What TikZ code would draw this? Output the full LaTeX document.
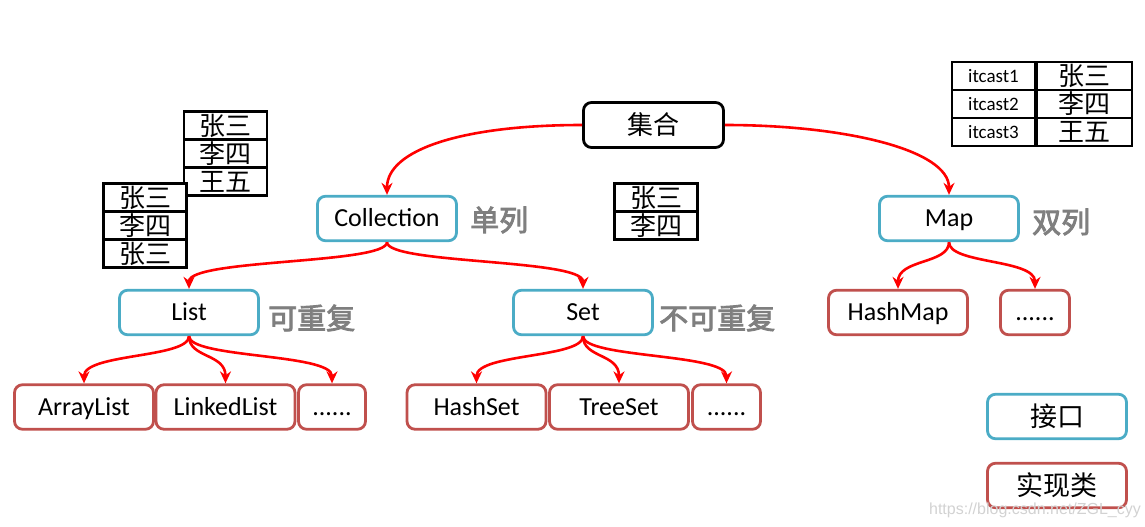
\documentclass[tikz,border=0pt]{standalone}
\usepackage{fontspec}
\setmainfont{Carlito}
\newfontfamily\cjk{Noto Sans CJK SC}
\newfontfamily\cjkb[FakeBold=3]{Noto Sans CJK SC}
\newfontfamily\wmfont{Liberation Sans}
\usetikzlibrary{arrows.meta}
\definecolor{ifblue}{RGB}{75,172,198}
\definecolor{imred}{RGB}{192,80,77}
\definecolor{arrred}{RGB}{255,0,0}
\definecolor{lblgray}{RGB}{127,127,127}
\begin{document}
\begin{tikzpicture}[x=1pt,y=-1pt,
  box/.style={draw, rounded corners=8pt, line width=2.8pt, minimum height=44.5pt, inner sep=0pt, fill=white, font=\fontsize{26}{26}\selectfont, text height=16.5pt, text depth=0pt},
  iface/.style={box, draw=ifblue, minimum width=139pt},
  impl/.style={box, draw=imred, minimum width=139pt},
  root/.style={box, draw=black, minimum width=140pt, minimum height=45pt, font=\cjk\fontsize{26}{26}\selectfont, text height=, text depth=},
  cjkbox/.style={font=\cjk\fontsize{27}{27}\selectfont, text height=, text depth=},
  note/.style={text=lblgray, font=\cjkb\fontsize{29}{29}\selectfont, inner sep=0pt, anchor=west},
  cell/.style={draw, line width=2.6pt, minimum width=83pt, minimum height=28pt, inner sep=0pt, fill=white, font=\cjk\fontsize{26}{26}\selectfont},
  arr/.style={draw=arrred, line width=2.6pt, -{Stealth[length=12pt,width=11pt]}},
]
\useasboundingbox (0,0) rectangle (1145,527);

% tables
\node[cell] (a1) at (225.5,125.5) {张三};
\node[cell] (a2) at (225.5,153.5) {李四};
\node[cell] (a3) at (225.5,181.5) {王五};
\node[cell] (b1) at (145,197.5) {张三};
\node[cell] (b2) at (145,225.5) {李四};
\node[cell] (b3) at (145,253.5) {张三};
\node[cell] (c1) at (656,197.5) {张三};
\node[cell] (c2) at (656,225.5) {李四};
\node[cell, font=\fontsize{19}{19}\selectfont] (d1) at (993.5,76) {itcast1};
\node[cell, font=\fontsize{19}{19}\selectfont] (d2) at (993.5,104) {itcast2};
\node[cell, font=\fontsize{19}{19}\selectfont] (d3) at (993.5,132) {itcast3};
\node[cell, minimum width=95pt] (e1) at (1084.5,76) {张三};
\node[cell, minimum width=95pt] (e2) at (1084.5,104) {李四};
\node[cell, minimum width=95pt] (e3) at (1084.5,132) {王五};

% hierarchy
\node[root] (root) at (653.5,125) {集合};
\node[iface] (col) at (387,218.5) {Collection};
\node[iface] (map) at (949,218.5) {Map};
\node[iface] (list) at (189,312.5) {List};
\node[iface] (set) at (583,312.5) {Set};
\node[impl] (al) at (84,407) {ArrayList};
\node[impl] (ll) at (225.5,407) {LinkedList};
\node[impl, minimum width=67pt] (ld) at (332,407) {......};
\node[impl] (hs) at (476.5,407) {HashSet};
\node[impl] (ts) at (619,407) {TreeSet};
\node[impl, minimum width=68pt] (sd) at (726.5,407) {......};
\node[impl] (hm) at (898,312.5) {HashMap};
\node[impl, minimum width=69pt] (md) at (1035,312.5) {......};

% notes
\node[note] (n1) at (470,220) {单列};
\node[note] (n2) at (1032,222) {双列};
\node[note] (n3) at (268,318) {可重复};
\node[note] (n4) at (659,318) {不可重复};

% legend
\node[iface, cjkbox] (lg1) at (1057,416.5) {接口};
\node[impl, cjkbox] (lg2) at (1057,485.5) {实现类};

% arrows
\draw[arr] (root.west) .. controls +(-120,0) and +(0,-45) .. (col.north);
\draw[arr] (root.east) .. controls +(120,0) and +(0,-45) .. (map.north);
\foreach \s/\t in {col/list, col/set, list/al, list/ll, list/ld, set/hs, set/ts, set/sd, map/hm, map/md}
  \draw[arr] (\s.south) .. controls +(0,22) and +(0,-30) .. (\t.north);

% watermark
\node[text=gray!35, font=\wmfont\fontsize{16}{16}\selectfont, anchor=east, inner sep=0pt] (wm) at (1141,510) {https://blog.csdn.net/ZGL\_cyy};
\end{tikzpicture}
\end{document}
